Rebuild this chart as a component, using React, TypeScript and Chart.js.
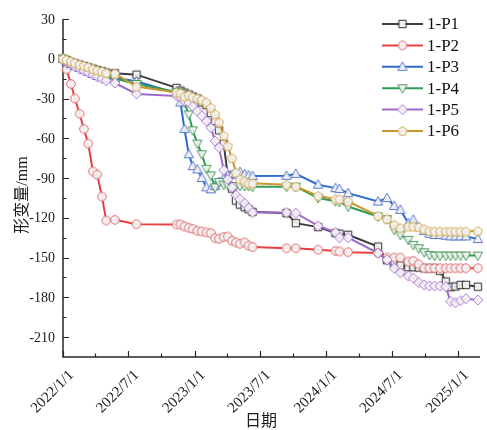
import { useEffect, useRef } from "react";
import { Chart, registerables } from "chart.js";

Chart.register(...registerables);

// measurement days, counted from 2022/1/1
const measureDays = [
  0, 10, 22, 33, 46, 58, 70, 83, 95, 108, 120, 144, 204,
  315, 326, 337, 349, 360, 373, 385, 398, 410, 422, 433, 446, 457, 469, 480, 491, 504, 515, 526,
  620, 646, 708, 756, 767, 791, 874, 899, 919, 936, 958, 972, 987, 1002, 1017, 1031, 1046, 1062, 1075, 1089, 1103, 1118, 1151,
];

const seriesNames = ["1-P1", "1-P2", "1-P3", "1-P4", "1-P5", "1-P6"];

const p1 = [
  0, -1, -2.5, -3.5, -4.5, -5.5, -6.5, -7.5, -8.5, -9.5, -10.5, -11, -12,
  -22, -24, -25.5, -27, -28.5, -30, -33, -35, -41, -47, -54, -64, -88, -98, -107, -110, -112, -113.5, -115.5,
  -116.5, -124, -127, -131.5, -132, -132.8, -141.7, -152, -155, -156, -157.2, -157.2, -157.5, -158, -158, -158, -160, -168, -172.3, -171.8, -170.6, -170.6, -172,
];
const p2 = [
  0, -8, -19, -30, -41.5, -53, -64, -85, -87.5, -104, -122, -121.5, -124.8,
  -125, -125, -126.5, -127.5, -128.3, -129.8, -130.3, -131, -131.5, -135.3, -135.8, -134.5, -134.1, -137.4, -138.6, -139.6, -138.6, -141, -142.1,
  -143, -143, -144, -145, -145.4, -145.9, -146.6, -150, -150, -150, -153, -152.5, -155, -158, -158, -158, -158, -158, -158, -158, -158, -158, -158,
];
const p3 = [
  0, -2, -4, -5.5, -7, -8.5, -10, -11.5, -13, -14, -15, -14.5, -17,
  -26, -33, -53, -72, -81, -83.5, -90, -97, -98.5, -96, -93, -90, -88, -87.5, -87, -85.5, -87, -88, -88.5,
  -88.3, -86.8, -95, -97.6, -98.3, -101.4, -107.7, -105.1, -111, -114, -124, -121.5, -127, -130, -132, -133, -133, -133.5, -134, -134, -134, -134, -136,
];
const p4 = [
  0, -1.5, -3.5, -5, -6.5, -8, -9.5, -11, -12, -13, -14, -15, -19,
  -25, -26, -33, -42, -54, -64, -72, -83, -88, -97, -93, -95, -95.5, -96, -96, -96, -96, -96, -96.5,
  -96.5, -96.5, -105, -107.5, -108, -111.5, -119, -121, -129, -132.8, -136.6, -140.4, -143, -146, -148, -148.5, -148.5, -148.5, -148.5, -148.5, -148.5, -148.5, -148.5,
];
const p5 = [
  0, -2, -4, -6, -7.5, -9, -10.5, -12, -13.5, -15, -16.5, -18.3, -26.5,
  -28, -29, -32, -33, -36, -39.5, -43, -47, -52, -62, -67, -84, -91, -97, -103, -106, -109, -112.5, -116,
  -116, -116.5, -126, -131, -134.9, -134.9, -146.6, -151.7, -158, -161.3, -163.8, -165.5, -168.8, -170.6, -171.3, -171.3, -171.5, -172, -183, -184, -182.5, -181, -182,
];
const p6 = [
  0, -0.8, -2, -3.2, -4.5, -5.3, -6.3, -7.8, -8.8, -9.6, -10.8, -11.3, -21,
  -25.5, -26, -28.5, -27.5, -29, -30, -31, -33, -37, -42, -48, -58, -66, -75, -86, -91, -92.5, -94, -94,
  -95, -96.4, -103.4, -105.9, -106, -107.7, -118.5, -121, -125.3, -127.8, -126.6, -126.5, -127, -128.5, -130, -130.3, -130.3, -130.3, -130.3, -130.3, -130.3, -130.3, -130,
];

const yTickValues = [30, 0, -30, -60, -90, -120, -150, -180, -210];
const yMinorValues = [15, -15, -45, -75, -105, -135, -165, -195];
const xTickLabels = ["2022/1/1", "2022/7/1", "2023/1/1", "2023/7/1", "2024/1/1", "2024/7/1", "2025/1/1"];
const xMinorDates = ["2022/4/1", "2022/10/1", "2023/4/1", "2023/10/1", "2024/4/1", "2024/10/1"];
const xAxisMaxDay = 1157;
const yAxisMin = -225;
const yAxisMax = 30;
const xTitle = "日期";
const yTitle = "形变量/mm";

const lineColors = ["#3d3d3d", "#e8403f", "#2e6cc8", "#2f9e55", "#9b6cc9", "#c9962f"];
const markerStrokes = ["#2b2b2b", "#e06a6a", "#5a78d0", "#4e9a5e", "#b07ad6", "#d4aa55"];
const markerShapes = ["square", "circle", "triUp", "triDown", "diamond", "pentagon"];
const markerFill = "rgba(243,243,243,0.93)";

function dayOf(s: string) {
  const [y, m, d] = s.split("/").map(Number);
  return (Date.UTC(y, m - 1, d) - Date.UTC(2022, 0, 1)) / 86400000;
}

function makeMarker(shape: string, stroke: string) {
  const size = 12;
  const c = document.createElement("canvas");
  c.width = size;
  c.height = size;
  const g = c.getContext("2d")!;
  const cx = size / 2;
  const cy = size / 2;
  g.beginPath();
  if (shape === "square") {
    g.rect(cx - 3.7, cy - 3.7, 7.4, 7.4);
  } else if (shape === "circle") {
    g.arc(cx, cy, 4.3, 0, Math.PI * 2);
  } else if (shape === "triUp" || shape === "triDown") {
    const s = shape === "triUp" ? 1 : -1;
    g.moveTo(cx, cy - 5 * s);
    g.lineTo(cx + 4.7, cy + 3.5 * s);
    g.lineTo(cx - 4.7, cy + 3.5 * s);
    g.closePath();
  } else if (shape === "diamond") {
    g.moveTo(cx, cy - 5);
    g.lineTo(cx + 5, cy);
    g.lineTo(cx, cy + 5);
    g.lineTo(cx - 5, cy);
    g.closePath();
  } else {
    for (let i = 0; i < 5; i++) {
      const a = -Math.PI / 2 + (i * 2 * Math.PI) / 5;
      const px = cx + 4.8 * Math.cos(a);
      const py = cy + 0.3 + 4.8 * Math.sin(a);
      if (i === 0) g.moveTo(px, py);
      else g.lineTo(px, py);
    }
    g.closePath();
  }
  g.fillStyle = markerFill;
  g.fill();
  g.lineWidth = 1;
  g.strokeStyle = stroke;
  g.stroke();
  return c;
}

const SERIF = '"Liberation Serif", "Times New Roman", "Noto Sans CJK SC", serif';

export default function App() {
  const ref = useRef<HTMLCanvasElement>(null);

  useEffect(() => {
    if (!ref.current) return;
    const markers = markerShapes.map((s, i) => makeMarker(s, markerStrokes[i]));
    const allValues = [p1, p2, p3, p4, p5, p6];

    const axesPlugin = {
      id: "customAxes",
      beforeDatasetsDraw(chart: any) {
        const { ctx, chartArea: a, scales } = chart;
        const x = scales.x;
        const y = scales.y;
        ctx.save();
        ctx.strokeStyle = "#262626";
        ctx.fillStyle = "#1a1a1a";
        ctx.lineWidth = 1.5;
        ctx.beginPath();
        ctx.moveTo(a.left, a.top);
        ctx.lineTo(a.left, a.bottom);
        ctx.lineTo(a.right, a.bottom);
        ctx.stroke();

        ctx.lineWidth = 1.2;
        // y ticks
        ctx.beginPath();
        for (const v of yTickValues) {
          const py = Math.round(y.getPixelForValue(v)) + 0.5;
          ctx.moveTo(a.left, py);
          ctx.lineTo(a.left + 6, py);
        }
        for (const v of yMinorValues) {
          const py = Math.round(y.getPixelForValue(v)) + 0.5;
          ctx.moveTo(a.left, py);
          ctx.lineTo(a.left + 3.5, py);
        }
        // x ticks
        for (const s of xTickLabels) {
          const px = Math.round(x.getPixelForValue(dayOf(s))) + 0.5;
          ctx.moveTo(px, a.bottom);
          ctx.lineTo(px, a.bottom - 6);
        }
        for (const s of xMinorDates) {
          const px = Math.round(x.getPixelForValue(dayOf(s))) + 0.5;
          ctx.moveTo(px, a.bottom);
          ctx.lineTo(px, a.bottom - 3.5);
        }
        ctx.stroke();

        // y labels
        ctx.font = `14px ${SERIF}`;
        ctx.textAlign = "right";
        ctx.textBaseline = "middle";
        for (const v of yTickValues) {
          ctx.fillText(String(v), a.left - 8, y.getPixelForValue(v) + 1);
        }
        // x labels
        ctx.font = `15px ${SERIF}`;
        for (const s of xTickLabels) {
          const px = x.getPixelForValue(dayOf(s));
          ctx.save();
          ctx.translate(px + 8.5, a.bottom + 16);
          ctx.rotate(-Math.PI / 4);
          ctx.textAlign = "right";
          ctx.textBaseline = "middle";
          ctx.fillText(s, 0, 0);
          ctx.restore();
        }
        // titles
        ctx.font = `16px ${SERIF}`;
        ctx.textAlign = "center";
        ctx.textBaseline = "middle";
        ctx.fillText(xTitle, 261, 422);
        ctx.save();
        ctx.translate(23, 195);
        ctx.rotate(-Math.PI / 2);
        ctx.fillText(yTitle, 0, 0);
        ctx.restore();
        ctx.restore();
      },
      afterDraw(chart: any) {
        const { ctx } = chart;
        ctx.save();
        seriesNames.forEach((name, i) => {
          const ly = 24 + i * 21.4;
          ctx.strokeStyle = lineColors[i];
          ctx.lineWidth = 2;
          ctx.beginPath();
          ctx.moveTo(382, ly);
          ctx.lineTo(423, ly);
          ctx.stroke();
          const m = markers[i];
          ctx.drawImage(m, 402.5 - m.width / 2, ly - m.height / 2);
          ctx.fillStyle = "#111";
          ctx.font = `17px ${SERIF}`;
          ctx.textAlign = "left";
          ctx.textBaseline = "middle";
          ctx.fillText(name, 427, ly + 1);
        });
        ctx.restore();
      },
    };

    const datasets = seriesNames.map((name, i) => ({
      label: name,
      data: measureDays.map((d, k) => ({ x: d, y: allValues[i][k] })),
      borderColor: lineColors[i],
      backgroundColor: lineColors[i],
      borderWidth: 2,
      pointStyle: markers[i],
      pointRadius: 5,
      tension: 0,
      clip: false as const,
      order: 5 - i,
    }));

    const chart = new Chart(ref.current, {
      type: "line",
      data: { datasets },
      options: {
        responsive: false,
        animation: false,
        devicePixelRatio: 1,
        layout: { padding: { left: 63, right: 5, top: 19, bottom: 73 } },
        plugins: { legend: { display: false }, tooltip: { enabled: false } },
        scales: {
          x: { type: "linear", min: 0, max: xAxisMaxDay, display: false },
          y: { type: "linear", min: yAxisMin, max: yAxisMax, display: false },
        },
      },
      plugins: [axesPlugin],
    });
    return () => chart.destroy();
  }, []);

  return (
    <div style={{ position: "absolute", left: 0, top: 0, width: 487, height: 430, background: "#fff" }}>
      <canvas ref={ref} width={487} height={430} style={{ display: "block" }} />
    </div>
  );
}
